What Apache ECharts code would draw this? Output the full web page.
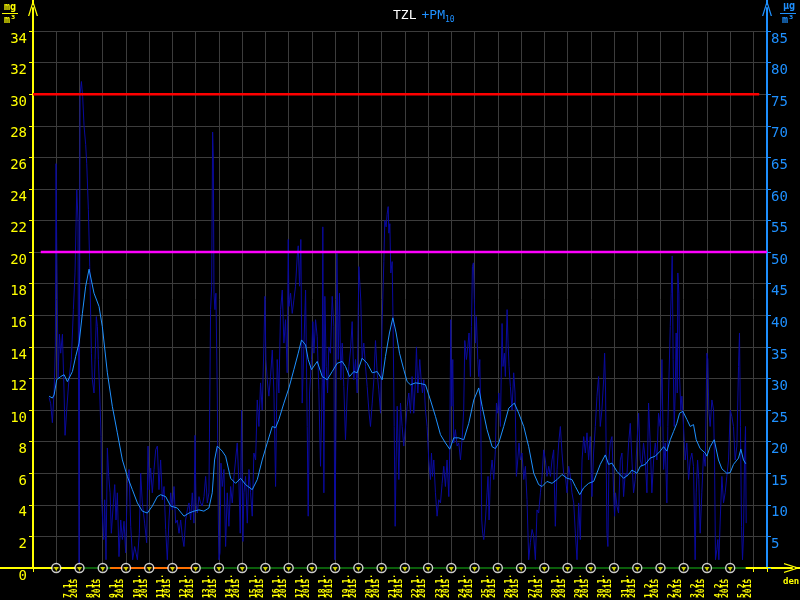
<!DOCTYPE html>
<html><head><meta charset="utf-8">
<script src="https://cdn.jsdelivr.net/npm/echarts@6/dist/echarts.min.js"></script>
<style>html,body{margin:0;padding:0;background:#000}#c{width:800px;height:600px}</style>
</head><body><div id="c"></div>
<script>
// ---- data ----
const dateLabels = ['7.1.','8.1.','9.1.','10.1.','11.1.','12.1.','13.1.','14.1.','15.1.','16.1.','17.1.','18.1.','19.1.','20.1.','21.1.','22.1.','23.1.','24.1.','25.1.','26.1.','27.1.','28.1.','29.1.','30.1.','31.1.','1.2.','2.2.','3.2.','4.2.','5.2.'];
const yearLabel = '2015';
const axisStartHour = -24;      // 6.1. 00:00 (hours from 7.1. 00:00)
const axisEndHour = 734;
const tzlMax = 34, tzlStep = 2;       // mg/m3
const pmMax = 85, pmStep = 5;         // ug/m3
const limitValues = [75, 50];
const limitFrom = [-24, -16];
const limitTo = [726, 734];
const statusFrom = [24, 56, 144];
const statusTo = [56, 144, 712];
const statusKind = ['ok', 'fault', 'ok'];
// 24h running average of PM10 [hour, ug/m3]
const pmAvg = [[-7.4,27.2],[-4.0,26.9],[-2.2,27.4],[0.5,29.8],[4.6,30.3],[8.1,30.6],[11.5,29.5],[16.7,31.1],[20.1,33.5],[23.6,35.6],[27.0,40.3],[30.4,44.6],[33.9,47.3],[39.0,43.5],[44.2,41.4],[47.6,38.2],[52.8,30.9],[57.9,25.6],[63.1,21.4],[68.3,17.1],[73.4,14.5],[78.6,12.4],[83.8,10.3],[88.9,9.0],[94.1,8.7],[99.2,9.8],[104.4,11.3],[107.8,11.6],[113.0,11.3],[118.2,9.8],[125.0,9.5],[131.9,8.2],[137.1,8.7],[142.2,9.0],[147.4,9.2],[152.5,9.0],[157.7,9.5],[161.1,11.9],[163.5,17.1],[166.3,19.3],[171.4,18.5],[174.9,17.7],[180.1,14.2],[185.2,13.4],[190.4,14.2],[195.5,13.2],[202.4,12.4],[207.6,14.0],[212.7,17.1],[217.9,19.8],[223.1,22.4],[226.5,22.2],[229.9,23.5],[235.1,26.1],[240.3,28.5],[245.4,31.4],[249.9,34.0],[253.3,36.1],[257.5,35.3],[260.2,33.0],[263.6,31.4],[269.5,32.7],[274.7,30.3],[279.8,29.8],[285.0,31.1],[290.1,32.4],[295.3,32.7],[298.7,31.9],[302.9,30.3],[307.3,31.1],[310.8,30.9],[315.9,33.2],[321.1,32.4],[326.3,30.9],[331.4,31.1],[336.6,29.8],[340.0,33.5],[344.1,37.2],[347.6,39.6],[351.0,37.2],[354.5,34.0],[358.9,31.4],[362.4,29.5],[365.8,29.0],[371.0,29.3],[376.1,29.2],[381.3,29.0],[386.4,26.6],[391.6,24.0],[396.8,21.1],[401.9,19.8],[406.4,18.8],[410.5,20.6],[415.7,20.6],[420.8,20.3],[426.0,22.9],[431.2,26.6],[436.3,28.5],[439.8,25.6],[444.9,21.9],[450.1,19.2],[453.5,18.9],[457.0,19.8],[462.1,22.4],[467.3,25.3],[473.1,26.1],[477.6,24.5],[482.8,22.4],[487.9,19.2],[493.1,15.0],[498.2,13.2],[501.7,12.9],[506.8,13.7],[512.0,13.4],[517.2,14.0],[522.3,14.8],[527.5,14.2],[532.6,14.0],[536.1,12.9],[540.6,11.6],[544.7,12.7],[549.8,13.4],[555.0,13.7],[561.8,16.4],[567.0,17.9],[570.4,16.4],[573.9,16.6],[579.0,15.3],[585.9,14.2],[591.1,14.8],[594.5,15.5],[599.7,15.0],[603.1,16.1],[608.3,16.4],[613.4,17.4],[618.6,17.7],[623.7,18.5],[627.2,19.2],[630.6,18.5],[634.1,20.3],[637.5,21.6],[640.9,22.9],[643.7,24.5],[647.1,24.8],[651.3,23.5],[654.7,22.4],[658.1,22.7],[660.9,20.3],[665.0,18.9],[670.2,18.2],[671.9,17.7],[675.3,19.2],[679.5,20.3],[683.9,17.1],[687.4,15.7],[692.5,15.0],[696.0,15.1],[699.4,16.4],[704.6,17.4],[707.0,18.8],[709.7,17.1],[712.1,16.5]];
// hourly PM10 [hour, ug/m3]
const pmRaw = [[-7.4,27.0],[-5.7,26],[-4.0,23],[-2.2,28],[-0.9,35],[-0.2,64],[0.5,51],[1.9,30],[3.3,37],[4.6,34],[6.4,37],[8.1,27.7],[9.1,21],[10.8,25],[13.2,30],[15.6,33],[17.7,40.9],[19.4,46.7],[21.2,59.9],[22.5,55],[23.6,0.8],[24.6,75],[26.0,77],[27.3,74.6],[28.7,70],[30.4,67],[31.5,64],[33.2,56.7],[34.6,47.7],[36.3,34],[37.3,29.8],[39.0,27.7],[40.1,33],[41.4,39.8],[42.5,38.2],[43.5,33],[44.9,27.7],[46.3,20.8],[47.0,10.8],[48.0,7.1],[49.0,4.5],[50.0,10.8],[51.4,1.3],[52.8,19],[54.2,14.5],[55.6,11.9],[56.9,5.5],[59.0,10.3],[60.4,13.2],[61.7,7.6],[63.1,11.9],[64.8,1.8],[66.6,7.6],[68.3,4.5],[70.0,7.4],[71.7,2.4],[73.4,13.4],[75.2,15.6],[76.9,6.6],[78.9,1.3],[81.0,3.4],[83.8,1.3],[85.8,5.5],[87.2,15],[88.9,10.3],[91.3,7.1],[93.4,4],[94.8,19.3],[96.1,12.4],[97.5,15.8],[99.2,11.9],[101.0,15.6],[102.7,18.7],[104.4,19.3],[106.1,12.4],[107.8,17.1],[109.6,10.8],[111.3,12.9],[113.0,6.1],[114.7,1.3],[116.4,7.6],[118.2,11.9],[119.9,9.2],[121.6,12.9],[123.3,7.1],[125.0,7.6],[126.8,5.5],[128.5,7.6],[130.2,5],[131.9,3.4],[133.6,7.6],[135.4,9.2],[137.1,10.3],[138.8,7.6],[140.5,11.9],[142.2,7.1],[143.3,21],[144.3,10.3],[145.7,8.7],[147.4,11.3],[149.1,10.3],[150.8,9.8],[152.6,11.3],[154.3,14.5],[156.0,10.3],[157.7,11.9],[159.4,40.9],[160.5,44.6],[161.5,69],[162.2,65],[162.9,43.5],[163.9,40.9],[164.9,43.5],[166.3,27.7],[167.4,7.6],[168.0,1.3],[169.1,2.4],[170.1,16.6],[171.5,12.9],[173.2,15.6],[174.9,3.4],[176.6,11.9],[178.3,6.6],[180.1,12.9],[181.8,10.3],[183.5,14.5],[185.2,17.1],[186.9,19.8],[188.7,13.4],[190.0,5.5],[191.4,25],[192.8,4.2],[193.8,11.9],[195.5,14.5],[197.3,7.1],[199.0,15.6],[200.7,11.9],[202.4,8.2],[204.1,18.2],[205.9,17.1],[207.6,26.6],[209.3,22.4],[211.0,29.3],[212.7,25],[214.5,35.6],[215.5,43],[216.5,33],[217.9,29.8],[219.6,27.2],[221.3,30.3],[223.1,34.5],[224.8,27.7],[226.5,12.9],[228.2,33],[229.9,27.7],[231.7,40.9],[233.4,44],[235.1,35.6],[236.8,39.3],[238.5,30.9],[239.6,52],[240.3,41.4],[242.0,43.5],[243.7,40.3],[245.4,42.4],[247.1,44.6],[248.9,49.4],[249.9,51],[251.3,44.6],[252.6,52],[254.0,26.1],[255.7,26.1],[257.5,44],[259.2,22.4],[260.2,8.2],[261.6,27.7],[263.6,33],[265.0,39],[266.1,34],[267.8,39.3],[269.5,36.6],[271.2,28.2],[272.9,16.1],[274.7,29.3],[275.3,54],[276.4,11.9],[277.4,43],[278.8,31.9],[280.2,27.7],[281.5,35],[283.2,34],[285.0,43],[286.7,38.2],[287.7,1.3],[289.1,27.7],[289.8,49.8],[291.2,33],[292.5,43.5],[293.9,29.8],[295.3,35.6],[297.0,28.7],[298.7,20.3],[300.5,27.7],[302.2,31.9],[303.9,34.5],[305.6,39],[307.3,29.8],[309.1,33],[310.8,27.7],[312.5,47.7],[313.5,47.7],[314.5,42.4],[315.9,33],[317.6,35.6],[319.4,31.9],[321.1,28.7],[322.8,25],[324.5,22.4],[326.3,26.1],[328.0,29.8],[329.7,36],[331.4,30.9],[333.1,28.2],[334.9,24.5],[336.6,39.3],[338.3,48.5],[339.3,55],[340.7,54],[341.7,56],[342.8,57.2],[343.5,53],[344.5,54.5],[345.5,46.7],[346.9,48.5],[347.9,38.2],[349.0,22.4],[350.0,6.6],[351.0,17.1],[352.1,25.6],[353.8,14],[355.5,26.1],[357.2,22.4],[358.9,19.3],[360.7,22.4],[362.4,25.6],[364.1,27.7],[365.8,24.5],[367.5,30.3],[369.2,24.5],[371.0,29.8],[372.0,35],[373.4,27.7],[375.4,33],[376.8,29.8],[378.2,27.7],[379.6,29.8],[381.3,25],[383.0,22.4],[384.7,17.1],[386.4,14],[387.5,18.2],[388.5,14.5],[389.9,17.1],[391.6,11.9],[393.3,8.2],[395.0,10.8],[396.8,10.3],[398.5,13.4],[400.2,16.1],[401.9,12.9],[403.6,17.1],[405.4,11.3],[406.4,18.7],[407.4,39.3],[408.5,25.6],[409.5,33],[410.5,19.8],[412.2,21.9],[414.0,19.3],[415.7,19.8],[417.4,17.1],[419.1,20.3],[420.8,25],[421.9,36],[423.6,33],[425.0,35],[426.3,37.2],[427.7,30.3],[428.8,38.2],[429.8,47.7],[430.8,48.3],[431.8,42.2],[432.9,35.6],[433.9,39.8],[435.3,33],[436.3,30.3],[437.4,33],[438.4,24],[439.4,7.6],[440.4,5.5],[441.5,4.5],[443.2,7.6],[444.9,11.9],[445.9,14.5],[447.0,7.6],[448.4,14.5],[450.1,17.1],[451.8,14],[453.5,18.7],[454.6,26.1],[455.9,24.5],[457.0,27.7],[458.7,22.4],[460.4,38.7],[461.4,31.9],[462.8,34],[463.8,30.3],[465.6,40.9],[466.6,35.6],[467.6,31.9],[469.0,28.7],[470.7,25],[472.4,30.9],[473.8,27.7],[475.2,14.5],[476.6,17.1],[477.9,19.8],[479.3,17.1],[481.0,18.2],[482.8,14],[484.5,16.1],[486.2,10.8],[487.9,1.3],[489.6,4],[491.4,6.1],[493.1,5],[494.8,1.3],[496.5,9.2],[498.2,8.7],[500.0,11.9],[501.7,14.5],[503.4,18.7],[505.1,17.1],[506.8,14.5],[508.6,16.1],[510.3,14.5],[512.0,17.1],[513.7,18.7],[515.4,6.6],[517.2,15.6],[518.9,19.8],[520.6,22.4],[522.3,18.2],[524.0,15],[525.8,14.5],[527.5,11.9],[529.2,16.1],[530.9,14.5],[532.6,11.9],[534.4,10.3],[536.1,5.5],[537.8,1.3],[539.5,10.3],[541.2,4.5],[543.0,17.1],[544.7,20.8],[546.4,18.2],[548.1,21.4],[549.8,17.1],[551.5,20.8],[553.2,11.3],[554.9,18.2],[556.7,22.4],[558.4,27.2],[560.1,30.3],[561.8,22.4],[563.5,25],[565.3,29.8],[566.3,34],[567.3,27.7],[568.7,5.5],[569.7,3.4],[570.8,17.1],[572.1,19.8],[573.9,20.8],[575.6,11.9],[576.6,8.2],[577.6,11.9],[579.0,9.8],[580.7,8.7],[582.5,17.1],[584.2,18.2],[585.9,11.3],[587.6,15],[589.3,14.5],[591.1,19.8],[592.8,22.9],[594.5,17.1],[596.2,11.9],[597.9,14],[599.7,19.8],[601.4,24.5],[603.1,17.1],[604.8,16.1],[606.5,19.8],[608.3,17.1],[610.0,11.9],[611.7,26.1],[613.4,19.8],[615.1,11.9],[616.9,17.1],[618.6,19.8],[620.3,17.1],[622.0,24.5],[623.7,22.4],[625.5,33],[627.2,15.6],[628.9,19.8],[630.6,10.3],[631.6,22.4],[632.7,29.8],[634.1,38.2],[635.1,43.5],[636.1,49.4],[637.1,33],[638.2,22.4],[639.2,27.7],[640.2,37.2],[641.3,27.7],[641.9,46.7],[643.0,43.5],[643.7,30.3],[645.0,25],[646.1,27.2],[647.8,22.4],[649.5,17.1],[651.2,19.8],[653.0,14],[654.7,17.1],[656.4,18.2],[658.1,16.1],[659.8,1.3],[660.9,11.9],[662.3,17.1],[663.6,14],[665.0,5.5],[666.7,11.9],[668.5,18.2],[670.2,16.1],[671.9,34],[672.9,33],[673.9,25],[675.3,22.4],[677.1,26.6],[678.8,25],[679.8,17.1],[680.8,1.3],[682.2,2.9],[683.2,4.5],[684.3,1.3],[685.7,7.6],[687.4,14.5],[689.1,10.3],[690.8,11.9],[692.5,14.5],[694.3,17.1],[696.0,25],[697.7,24],[699.4,22.4],[701.1,17.1],[702.9,19.3],[704.6,31.9],[705.6,37.2],[706.6,22.4],[707.7,6.6],[708.7,1.3],[709.7,5],[710.8,17.1],[711.8,22.4],[712.5,7.1]];

// ---- styles ----
const YEL = '#ffff00', BLUE = '#1e90ff', RAW = '#0a0aa0', GRIDC = '#3c3c3c';
const LIMITC = ['#ff0000', '#ff00ff'];
const STATUSC = { ok: '#0b5e0b', fault: '#ff7000' };
const MONO = 'DejaVu Sans Mono';
const ARROW = 'path://M5 0 L10 16 L8.7 16 L5 4 L1.3 16 L0 16 Z M4 0 L6 0 L6 5 L4 5 Z';

const chart = echarts.init(document.getElementById('c'));

const series = [];
series.push({ type: 'line', name: 'PM10 raw', xAxisIndex: 0, yAxisIndex: 1, data: pmRaw, showSymbol: false, symbol: 'none',
  lineStyle: { color: RAW, width: 1 }, z: 2, silent: true });
series.push({ type: 'line', name: 'PM10 avg', xAxisIndex: 0, yAxisIndex: 1, data: pmAvg, showSymbol: false, symbol: 'none',
  lineStyle: { color: BLUE, width: 1 }, z: 3, silent: true });
limitValues.forEach((v, i) => series.push({ type: 'line', xAxisIndex: 0, yAxisIndex: 1, symbol: 'none', clip: false,
  data: [[limitFrom[i], v], [limitTo[i], v]], lineStyle: { color: LIMITC[i], width: 2.5 }, z: 4, silent: true }));
statusFrom.forEach((s, i) => series.push({ type: 'line', xAxisIndex: 0, yAxisIndex: 0, symbol: 'none', clip: false,
  data: [[s, 0], [statusTo[i], 0]], lineStyle: { color: STATUSC[statusKind[i]], width: 2 }, z: 5, silent: true }));
series.push({ type: 'scatter', xAxisIndex: 0, yAxisIndex: 0, clip: false, silent: true, z: 6,
  data: dateLabels.map((d, i) => [i * 24, 0]), symbol: 'circle', symbolSize: 9,
  itemStyle: { color: '#000', borderColor: '#ffffff', borderWidth: 1.4 } });
series.push({ type: 'scatter', xAxisIndex: 0, yAxisIndex: 0, clip: false, silent: true, z: 7,
  data: dateLabels.map((d, i) => [i * 24, 0]), symbol: 'triangle', symbolRotate: 180, symbolSize: [5, 4], symbolOffset: [0, 1],
  itemStyle: { color: YEL } });

const option = {
  backgroundColor: '#000',
  animation: false,
  title: {
    text: '{a|TZL} {b|+PM}{c|10}', left: 388, top: 2,
    textStyle: { fontWeight: 'normal', rich: {
      a: { color: '#ffffff', fontSize: 13, fontWeight: 'normal', fontFamily: MONO },
      b: { color: BLUE, fontSize: 13, fontWeight: 'normal', fontFamily: MONO },
      c: { color: BLUE, fontSize: 8, fontWeight: 'normal', fontFamily: MONO, padding: [8, 0, 0, 0] }
    } }
  },
  grid: [
    { left: 33, right: 33, top: 31, bottom: 32, outerBoundsMode: 'none' },
    { left: 0, right: 8, top: 31, bottom: 32, outerBoundsMode: 'none' },
    { left: 33, right: 33, top: 8, bottom: 32, outerBoundsMode: 'none' }
  ],
  xAxis: [
    { gridIndex: 0, type: 'value', min: axisStartHour, max: axisEndHour, interval: 24,
      axisLine: { show: false, onZero: false },
      axisTick: { show: true, length: 4, lineStyle: { color: YEL } },
      splitLine: { show: true, lineStyle: { color: GRIDC, width: 1 } },
      axisLabel: { show: true, rotate: 90, align: 'left', verticalAlign: 'top', margin: 30, padding: [8, 0, 0, 0],
        color: YEL, fontSize: 8, fontWeight: 'bold', fontFamily: MONO, lineHeight: 7,
        showMinLabel: true, showMaxLabel: true, hideOverlap: false,
        formatter: v => { const i = Math.round(v / 24); if (Math.abs(v - i * 24) > 0.01 || i < 0 || i >= dateLabels.length) return ''; return dateLabels[i] + '\n' + yearLabel; } } },
    { gridIndex: 1, type: 'value', min: 0, max: 1,
      axisLine: { show: true, onZero: false, lineStyle: { color: YEL, width: 2 }, symbol: ['none', ARROW], symbolSize: [10, 17] },
      axisTick: { show: false }, axisLabel: { show: false }, splitLine: { show: false } },
    { gridIndex: 2, type: 'value', min: 0, max: 1, show: false }
  ],
  yAxis: [
    { gridIndex: 0, type: 'value', position: 'left', min: 0, max: tzlMax, interval: tzlStep,
      axisLine: { show: false, onZero: false },
      axisTick: { show: true, length: 4, lineStyle: { color: YEL } },
      splitLine: { show: true, lineStyle: { color: GRIDC, width: 1 } },
      axisLabel: { color: YEL, fontSize: 14, fontFamily: MONO, margin: 6, verticalAlign: 'top', padding: [1, 0, 0, 0] } },
    { gridIndex: 0, type: 'value', position: 'right', min: 0, max: pmMax, interval: pmStep,
      axisLine: { show: false, onZero: false },
      axisTick: { show: true, length: 4, lineStyle: { color: BLUE } },
      splitLine: { show: false },
      axisLabel: { color: BLUE, fontSize: 14, fontFamily: MONO, margin: 4, verticalAlign: 'top', padding: [1, 0, 0, 0],
        formatter: v => (v === 0 ? '' : String(v)) } },
    { gridIndex: 1, type: 'value', min: 0, max: 1, show: false },
    { gridIndex: 2, type: 'value', position: 'left', min: 0, max: 1,
      axisLine: { show: true, onZero: false, lineStyle: { color: YEL, width: 2 }, symbol: ['none', ARROW], symbolSize: [10, 16] },
      axisTick: { show: false }, axisLabel: { show: false }, splitLine: { show: false } },
    { gridIndex: 2, type: 'value', position: 'right', min: 0, max: 1,
      axisLine: { show: true, onZero: false, lineStyle: { color: BLUE, width: 2 }, symbol: ['none', ARROW], symbolSize: [10, 16] },
      axisTick: { show: false }, axisLabel: { show: false }, splitLine: { show: false } }
  ],
  graphic: [
    { type: 'text', left: 4, top: 2, style: { text: 'mg', fill: YEL, font: 'bold 10px ' + MONO } },
    { type: 'rect', left: 2, top: 13, shape: { width: 16, height: 1 }, style: { fill: YEL } },
    { type: 'text', left: 4, top: 15, style: { text: 'm³', fill: YEL, font: 'bold 10px ' + MONO } },
    { type: 'text', left: 783, top: 1, style: { text: 'µg', fill: BLUE, font: 'bold 10px ' + MONO } },
    { type: 'rect', left: 780, top: 13, shape: { width: 16, height: 1 }, style: { fill: BLUE } },
    { type: 'text', left: 782, top: 15, style: { text: 'm³', fill: BLUE, font: 'bold 10px ' + MONO } },
    { type: 'text', left: 783, top: 577, style: { text: 'den', fill: YEL, font: 'bold 9px ' + MONO } }
  ],
  series: series
};
chart.setOption(option);
</script>
</body></html>
